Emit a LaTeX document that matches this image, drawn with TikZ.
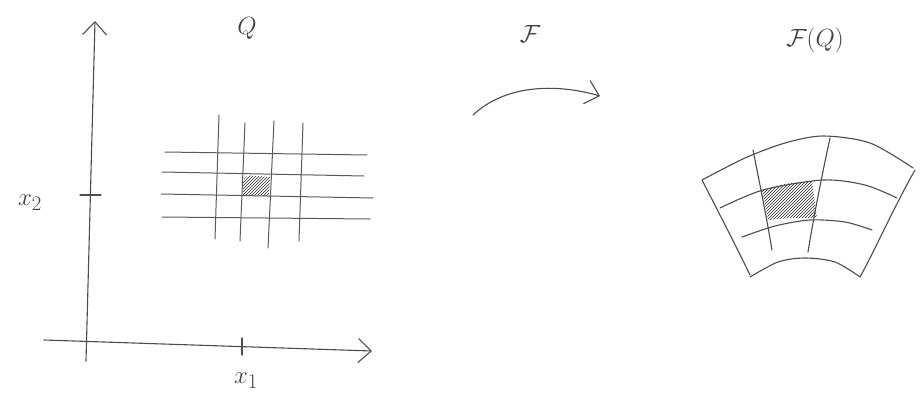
\documentclass[tikz,border=0pt]{standalone}
\usetikzlibrary{arrows.meta,patterns}
\begin{document}
\begin{tikzpicture}[x=1pt,y=-1pt,
  pencil/.style={draw=black!70,line width=1.1pt,line cap=round,line join=round},
  gridline/.style={draw=black!65,line width=1pt,line cap=round},
  hatch/.style={pattern=north east lines,pattern color=black!85},
  lbl/.style={text=black!75,font=\fontsize{30}{32}\selectfont,inner sep=0pt},
  barb/.style={-{Straight Barb[length=13pt,width=24pt,line width=1.1pt]}}]
\useasboundingbox (0,0) rectangle (920,396);
% axes
\coordinate (ytop) at (95,21);
\coordinate (xend) at (372,351);
\coordinate (ybot) at (86,361);
\coordinate (xbeg) at (44,340);
\draw[pencil,barb] (ybot) -- (ytop);
\draw[pencil,barb] (xbeg) -- (xend);
\coordinate (tx1) at (242,338); \coordinate (tx2) at (242,355);
\draw[pencil] (tx1) -- (tx2);
\coordinate (ty1) at (80,195); \coordinate (ty2) at (101,195);
\draw[pencil] (ty1) -- (ty2);
\node[lbl] (x1) at (246,381) {$x_1$};
\node[lbl] (x2) at (30,203) {$x_2$};
\node[lbl] (Q) at (247,28) {$Q$};
% left grid
\fill[hatch] (243,183) .. controls (244,176) and (248,175) .. (255,176) -- (270,177) -- (269,196) -- (243,195) -- cycle;
\draw[gridline] (165,152) -- (367,155);
\draw[gridline] (162,172) -- (364,176);
\draw[gridline] (161,194) -- (373,198);
\draw[gridline] (162,217) -- (370,219);
\draw[gridline] (219,115) -- (215,239);
\draw[gridline] (245,123) -- (240,241);
\draw[gridline] (274,121) -- (268,248);
\draw[gridline] (303,123) -- (299,241);
% map arrow
\node[lbl] (F) at (530,34) {$\mathcal{F}$};
\coordinate (as) at (473,115);
\coordinate (ae) at (600,96);
\draw[pencil,barb] (as) .. controls (505,85) and (555,83) .. (ae);
% image
\node[lbl] (FQ) at (815,40) {$\mathcal{F}(Q)$};
\fill[hatch] plot[smooth] coordinates {(762,190) (785,184) (812,181)} -- (817,218) -- plot[smooth] coordinates {(817,218) (792,218) (768,220)} -- cycle;
\draw[pencil] plot[smooth] coordinates {(702,180) (745,158) (785,143) (823,136) (870,143) (913,168)};
\draw[pencil] (702,180) .. controls (720,215) and (738,250) .. (750,275);
\draw[pencil] (915,170) .. controls (895,205) and (875,250) .. (860,277);
\draw[pencil] plot[smooth] coordinates {(750,277) (778,262) (805,258) (835,262) (860,277)};
\draw[pencil] plot[smooth] coordinates {(720,208) (763,190) (823,180) (865,185) (897,198)};
\draw[pencil] plot[smooth] coordinates {(742,237) (775,226) (810,220) (845,222) (872,230)};
\draw[pencil] (753,150) .. controls (760,185) and (767,220) .. (772,250);
\draw[pencil] (830,138) .. controls (822,175) and (814,215) .. (808,252);
\end{tikzpicture}
\end{document}
